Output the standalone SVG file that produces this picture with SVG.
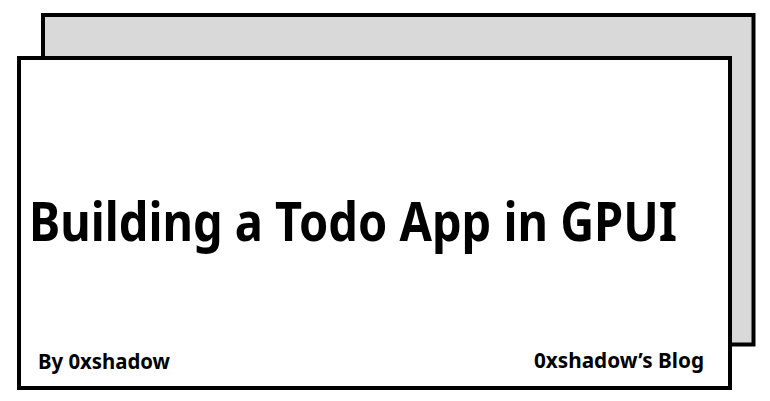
<svg xmlns="http://www.w3.org/2000/svg" width="770" height="401" viewBox="0 0 770 401">
<style>
.card{stroke:#000;stroke-width:4}
.t{font-family:"Noto Sans","Open Sans","DejaVu Sans",sans-serif;font-weight:bold;fill:#000}
</style>
<rect width="770" height="401" fill="#fff"/>
<g id="back-card"><rect class="card" x="43" y="15" width="710.5" height="329.5" fill="#d9d9d9"/></g>
<g id="front-card"><rect class="card" x="19" y="58" width="711" height="330" fill="#fff"/>
<text class="t" x="29" y="241" font-size="53" textLength="648" lengthAdjust="spacingAndGlyphs">Building a Todo App in GPUI</text>
<text class="t" x="38" y="369" font-size="21" textLength="132" lengthAdjust="spacingAndGlyphs">By 0xshadow</text>
<text class="t" x="534" y="368" font-size="21" textLength="170" lengthAdjust="spacingAndGlyphs">0xshadow’s Blog</text>
</g>
<g id="connectors"/>
</svg>
